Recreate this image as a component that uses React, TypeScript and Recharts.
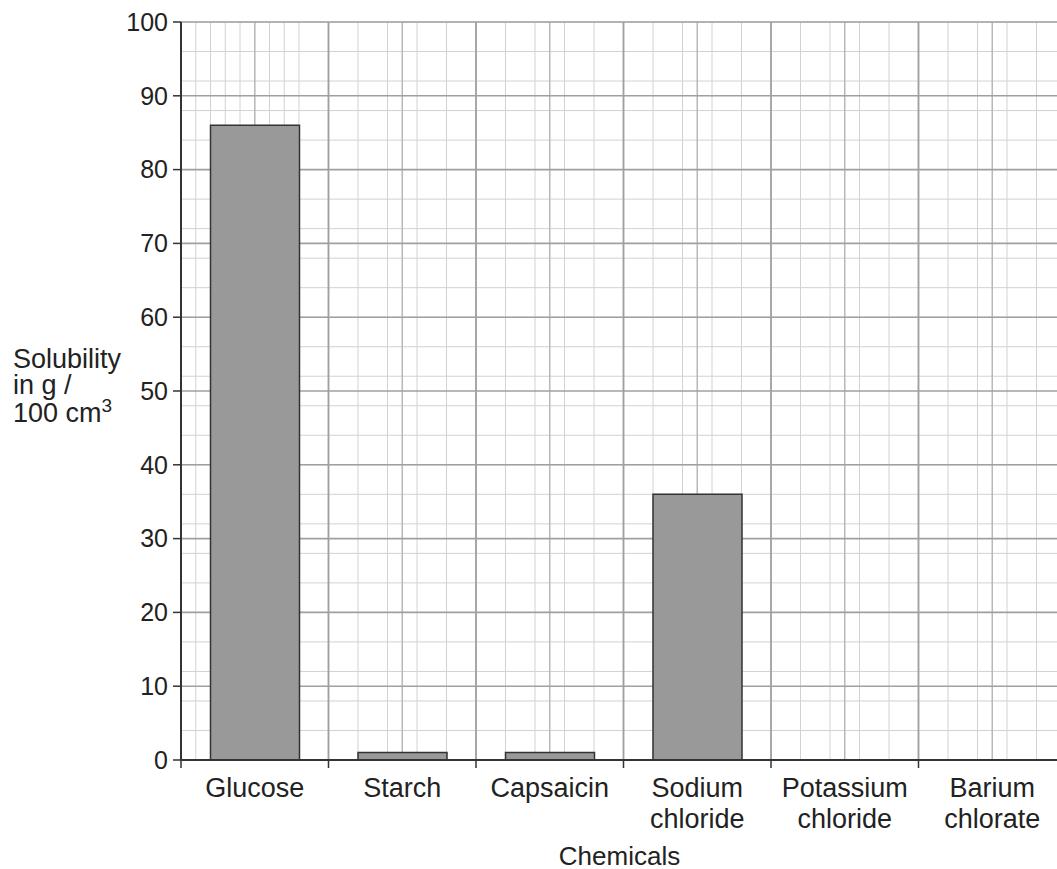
import React from "react";
import { BarChart, Bar, XAxis, YAxis, CartesianGrid, Label } from "recharts";

const categories = ["Glucose", "Starch", "Capsaicin", "Sodium chloride", "Potassium chloride", "Barium chlorate"];
const solubility: (number | null)[] = [86, 1, 1, 36, null, null];
const categoryLabelLines = [
  ["Glucose"],
  ["Starch"],
  ["Capsaicin"],
  ["Sodium", "chloride"],
  ["Potassium", "chloride"],
  ["Barium", "chlorate"],
];
const yTicks = [0, 10, 20, 30, 40, 50, 60, 70, 80, 90, 100];
const yAxisTitle = ["Solubility", "in g /", "100 cm"];
const xAxisTitle = "Chemicals";

// grid helper scale: each category occupies 10 slot units (0..60)
const xMinorTicks = Array.from({ length: 61 }, (_, i) => i);
const xHalfTicks = Array.from({ length: 13 }, (_, i) => i * 5);
const xMajorTicks = Array.from({ length: 7 }, (_, i) => i * 10);
const yMinorTicks = Array.from({ length: 51 }, (_, i) => i * 2);

const data = categories.map((c, i) => ({ name: c, value: solubility[i], slot: i * 10 + 5 }));

const FONT = '"Liberation Sans", Arial, Helvetica, sans-serif';

const XTick = (props: any) => {
  const { x, y, payload } = props;
  const v = payload.value as number;
  if (v % 10 === 0) {
    return <line x1={x} x2={x} y1={y} y2={y + 8} stroke="#333" strokeWidth={1.5} />;
  }
  const idx = (v - 5) / 10;
  const lines = categoryLabelLines[idx] || [];
  return (
    <text x={x} y={y} textAnchor="middle" fontFamily={FONT} fontSize={27} fill="#222">
      {lines.map((l, i) => (
        <tspan key={i} x={x} dy={i === 0 ? 37 : 31}>
          {l}
        </tspan>
      ))}
    </text>
  );
};

const YTitle = (props: any) => {
  const vb = props.viewBox || { x: 0 };
  const x = vb.x + 13;
  return (
    <text fontFamily={FONT} fontSize={27} fill="#222">
      <tspan x={x} y={368}>{yAxisTitle[0]}</tspan>
      <tspan x={x} y={394}>{yAxisTitle[1]}</tspan>
      <tspan x={x} y={422}>
        {yAxisTitle[2]}
        <tspan fontSize={19} dy={-10}>3</tspan>
      </tspan>
    </text>
  );
};

const XTitle = (props: any) => {
  const vb = props.viewBox;
  return (
    <text x={vb.x + vb.width / 2 - 4} y={vb.y + 105} textAnchor="middle" fontFamily={FONT} fontSize={26} fill="#222">
      {xAxisTitle}
    </text>
  );
};

export default function App() {
  return (
    <div style={{ width: 1057, height: 869, overflow: "hidden", background: "#fff" }}>
      <style>{`html, body { margin: 0; padding: 0; }`}</style>
      <BarChart
        width={1078}
        height={869}
        data={data}
        margin={{ top: 22, right: 12, left: 0, bottom: 0 }}
        barCategoryGap="20%"
      >
        <CartesianGrid xAxisId="minor" yAxisId="yminor" stroke="#d2d2d2" strokeWidth={1} />
        <CartesianGrid xAxisId="num" yAxisId="y" horizontal={false} stroke="#b8b8b8" strokeWidth={1.5} />
        <CartesianGrid xAxisId="major" yAxisId="y" stroke="#a0a0a0" strokeWidth={1.6} />

        <XAxis
          xAxisId="num"
          dataKey="slot"
          type="number"
          domain={[0, 60]}
          ticks={xHalfTicks}
          interval={0}
          height={109}
          tickSize={0}
          tickMargin={0}
          tickLine={false}
          tick={<XTick />}
          axisLine={{ stroke: "#333", strokeWidth: 2 }}
          allowDataOverflow
        >
          <Label content={<XTitle />} />
        </XAxis>
        <XAxis xAxisId="cat" dataKey="name" type="category" hide height={0} />
        <XAxis xAxisId="minor" dataKey="slot" type="number" domain={[0, 60]} ticks={xMinorTicks} hide height={0} allowDataOverflow />
        <XAxis xAxisId="major" dataKey="slot" type="number" domain={[0, 60]} ticks={xMajorTicks} hide height={0} allowDataOverflow />

        <YAxis
          yAxisId="y"
          type="number"
          domain={[0, 100]}
          ticks={yTicks}
          interval={0}
          width={181}
          tickSize={8}
          tickMargin={5}
          tick={{ fontFamily: FONT, fontSize: 25, fill: "#222" }}
          tickLine={{ stroke: "#333", strokeWidth: 1.5 }}
          axisLine={{ stroke: "#333", strokeWidth: 2 }}
          allowDataOverflow
        >
          <Label content={<YTitle />} />
        </YAxis>
        <YAxis yAxisId="yminor" type="number" domain={[0, 100]} ticks={yMinorTicks} hide width={0} allowDataOverflow />

        <Bar
          xAxisId="cat"
          yAxisId="y"
          dataKey="value"
          fill="#999999"
          stroke="#333"
          strokeWidth={1.5}
          isAnimationActive={false}
        />
      </BarChart>
    </div>
  );
}
